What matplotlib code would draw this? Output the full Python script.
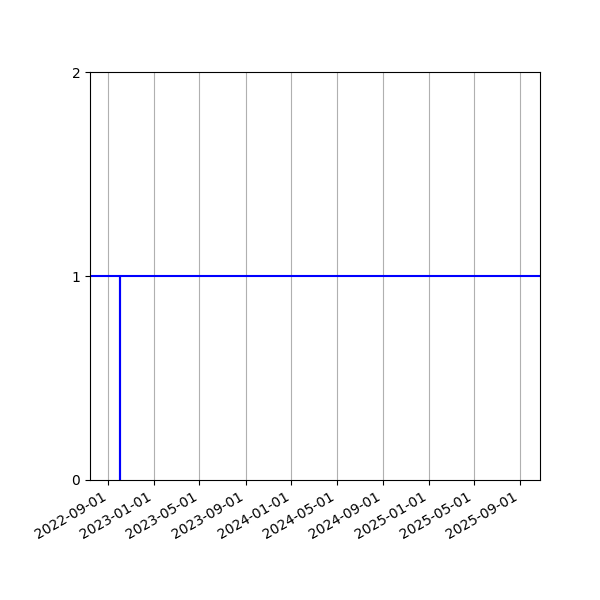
import datetime as dt
import matplotlib
matplotlib.use("Agg")
import matplotlib.pyplot as plt
import matplotlib.dates as mdates

# fechas y valores de la serie
fechas = [dt.date(2022, 6, 1), dt.date(2022, 10, 2), dt.date(2022, 10, 2),
          dt.date(2022, 10, 2), dt.date(2026, 1, 1)]
valores = [1, 1, 0, 1, 1]

fig, ax = plt.subplots(figsize=(6, 6), dpi=100)
fig.subplots_adjust(left=0.15, right=0.9, top=0.88)

ax.plot(fechas, valores, color="blue")

ax.set_xlim(dt.date(2022, 7, 14), dt.date(2025, 10, 24))
ax.set_ylim(0, 2)
ax.set_yticks([0, 1, 2])

ax.xaxis.set_major_locator(mdates.MonthLocator(bymonth=[1, 5, 9]))
ax.xaxis.set_major_formatter(mdates.DateFormatter("%Y-%m-%d"))
ax.grid(axis="x")
fig.autofmt_xdate()

plt.savefig("out.png")
